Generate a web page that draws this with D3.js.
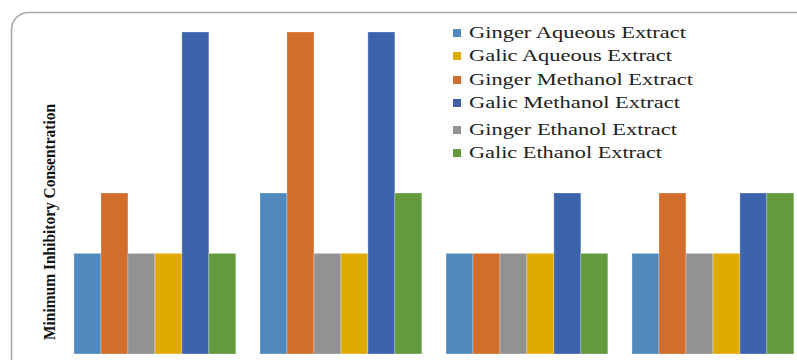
<!DOCTYPE html>
<html>
<head>
<meta charset="utf-8">
<script src="https://cdn.jsdelivr.net/npm/d3@7/dist/d3.min.js"></script>
<style>
  html, body { margin: 0; padding: 0; background: #fff; overflow: hidden; }
  svg { display: block; }
</style>
</head>
<body>
<svg id="chart" width="797" height="360"></svg>
<script>
// Isolates tested (one cluster of bars each)
const groups = ["Isolate 1", "Isolate 2", "Isolate 3", "Isolate 4"];

// Extracts, in the order the bars are drawn inside each cluster
const series = [
  "Ginger Aqueous Extract",
  "Ginger Methanol Extract",
  "Ginger Ethanol Extract",
  "Galic Aqueous Extract",
  "Galic Methanol Extract",
  "Galic Ethanol Extract"
];

// Legend order
const legendOrder = [
  "Ginger Aqueous Extract",
  "Galic Aqueous Extract",
  "Ginger Methanol Extract",
  "Galic Methanol Extract",
  "Ginger Ethanol Extract",
  "Galic Ethanol Extract"
];

// MIC values per extract, one per isolate
const gingerAqueous  = [25, 40, 25, 25];
const gingerMethanol = [40, 80, 25, 40];
const gingerEthanol  = [25, 25, 25, 25];
const galicAqueous   = [25, 25, 25, 25];
const galicMethanol  = [80, 80, 40, 40];
const galicEthanol   = [25, 40, 25, 40];

const colors = ["#4f89bd", "#d36d2b", "#929292", "#e1aa00", "#3c63ab", "#629a3d"];

const values = [gingerAqueous, gingerMethanol, gingerEthanol, galicAqueous, galicMethanol, galicEthanol];

const yTitle = "Minimum Inhibitory Consentration";

const svg = d3.select("#chart");

// Chart frame with rounded top-left corner
const fx = 11.5, fy = 12.5, r = 17;
svg.append("path")
  .attr("d", `M${fx},362 V${fy + r} A${r},${r} 0 0 1 ${fx + r},${fy} H800`)
  .attr("fill", "none")
  .attr("stroke", "#a9a9a9")
  .attr("stroke-width", 1.6);

// Scales
const y = d3.scaleLinear().domain([0, 80]).range([354, 32]);

const x0 = d3.scaleBand()
  .domain(groups)
  .range([74, 74 + 186 * (4 - 0.13)])
  .paddingInner(0.13)
  .paddingOuter(0);

const x1 = d3.scaleBand()
  .domain(series)
  .range([0, x0.bandwidth()])
  .padding(0);

const color = d3.scaleOrdinal().domain(series).range(colors);

const rows = [];
groups.forEach((g, gi) => {
  series.forEach((s, si) => {
    rows.push({ group: g, series: s, value: values[si][gi] });
  });
});

svg.append("g")
  .selectAll("rect")
  .data(rows)
  .join("rect")
  .attr("x", d => x0(d.group) + x1(d.series))
  .attr("y", d => y(d.value))
  .attr("width", x1.bandwidth())
  .attr("height", d => y(0) - y(d.value))
  .attr("fill", d => color(d.series))
  .attr("stroke", "#ffffff")
  .attr("stroke-opacity", 0.35)
  .attr("stroke-width", 0.8);

// Y axis title
svg.append("text")
  .attr("transform", "translate(55,222) rotate(-90)")
  .attr("text-anchor", "middle")
  .attr("font-family", "'Liberation Serif', 'Times New Roman', serif")
  .attr("font-weight", "bold")
  .attr("font-size", 16)
  .attr("textLength", 236)
  .attr("lengthAdjust", "spacingAndGlyphs")
  .attr("fill", "#111")
  .text(yTitle);

// Legend
const legendBaselines = [38, 61, 85, 108, 135, 158];
const legendWidths = [217, 203, 224, 211, 208, 193];
const legend = svg.append("g");
legendOrder.forEach((s, i) => {
  const by = legendBaselines[i];
  legend.append("rect")
    .attr("x", 453)
    .attr("y", by - 9)
    .attr("width", 8)
    .attr("height", 8)
    .attr("fill", color(s));
  legend.append("text")
    .attr("x", 469)
    .attr("y", by)
    .attr("font-family", "'Liberation Serif', 'Times New Roman', serif")
    .attr("font-size", 17)
    .attr("textLength", legendWidths[i])
    .attr("lengthAdjust", "spacingAndGlyphs")
    .attr("fill", "#222")
    .text(s);
});
</script>
</body>
</html>
